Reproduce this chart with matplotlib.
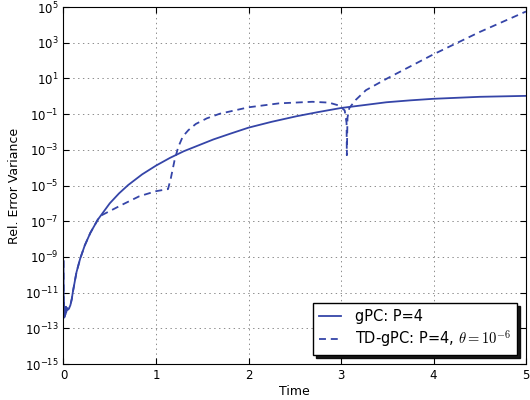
import matplotlib
matplotlib.use("Agg")
import matplotlib.pyplot as plt

plt.rcParams["mathtext.fontset"] = "cm"
plt.rcParams["lines.scale_dashes"] = False

line_color = "#3545a8"

# gPC: P=4  (time, relative error variance)
gpc_t = [0.0, 0.003, 0.006, 0.009, 0.012, 0.015, 0.018, 0.021, 0.025, 0.03,
         0.035, 0.045, 0.06, 0.075, 0.09, 0.10, 0.14, 0.18, 0.23, 0.29,
         0.37, 0.5, 0.6, 0.7, 0.85, 1.0, 1.15, 1.3, 1.62, 1.8, 2.0, 2.25,
         2.52, 2.75, 3.0, 3.25, 3.49, 3.75, 4.0, 4.5, 5.0]
gpc_err = [6e-10, 5e-13, 2.5e-12, 4e-13, 1.6e-12, 5e-13, 1.3e-12, 6e-13,
           1.6e-12, 8e-13, 1.4e-12, 1.1e-12, 1.3e-12, 2e-12, 4.5e-12, 1e-11,
           1.35e-10, 7.9e-10, 4.4e-9, 2.2e-8, 1.2e-7, 1e-6, 3.6e-6, 1.07e-5,
           4.2e-5, 1.3e-4, 3.5e-4, 8.3e-4, 3.8e-3, 7.9e-3, 1.74e-2, 3.7e-2,
           7.6e-2, 0.129, 0.22, 0.32, 0.46, 0.59, 0.72, 0.93, 1.05]

# TD-gPC: P=4, theta=1e-6
td_t = [0.0, 0.003, 0.006, 0.009, 0.012, 0.015, 0.018, 0.021, 0.025, 0.03,
        0.035, 0.045, 0.06, 0.075, 0.09, 0.10, 0.14, 0.18, 0.23, 0.29,
        0.37, 0.40, 0.64, 0.82, 1.0, 1.13, 1.16, 1.2, 1.24, 1.29, 1.35,
        1.43, 1.55, 1.69, 2.0, 2.33, 2.69, 2.87, 2.98, 3.04, 3.06, 3.063,
        3.07, 3.09, 3.16, 3.27, 3.5, 4.0, 4.5, 5.0]
td_err = [6e-10, 5e-13, 2.5e-12, 4e-13, 1.6e-12, 5e-13, 1.3e-12, 6e-13,
          1.6e-12, 8e-13, 1.4e-12, 1.1e-12, 1.3e-12, 2e-12, 4.5e-12, 1e-11,
          1.35e-10, 7.9e-10, 4.4e-9, 2.2e-8, 1.2e-7, 2e-7, 8.7e-7, 2.5e-6,
          4.8e-6, 6.3e-6, 2.5e-5, 2.5e-4, 1.4e-3, 5.6e-3, 1.26e-2, 2.8e-2,
          5.8e-2, 0.105, 0.24, 0.4, 0.49, 0.44, 0.3, 0.16, 0.032, 5e-4,
          0.063, 0.22, 0.63, 2.2, 10, 224, 4000, 56000]

fig = plt.figure(figsize=(5.3, 4.0), dpi=100)
ax = fig.add_axes([0.1198, 0.09, 0.8727, 0.8925])

ax.plot(gpc_t, gpc_err, color=line_color, lw=1.3, label="gPC: P=4")
ax.plot(td_t, td_err, color=line_color, lw=1.3, dashes=(5, 3.5),
        label=r"TD-gPC: P=4, $\theta = 10^{-6}$")

ax.set_yscale("log")
ax.set_xlim(0, 5)
ax.set_ylim(1e-15, 1e5)
ax.set_yticks([10.0 ** k for k in range(-15, 6, 2)])
ax.yaxis.set_minor_locator(matplotlib.ticker.NullLocator())
ax.set_xticks([0, 1, 2, 3, 4, 5])
ax.tick_params(direction="in", top=True, right=True, labelsize=8.5, length=4)
ax.grid(True, color="0.55", linestyle=(0, (1, 2.5)), lw=0.7)

ax.set_xlabel("Time", fontsize=9, labelpad=2)
ax.set_ylabel("Rel. Error Variance", fontsize=9, labelpad=3)

leg = ax.legend(loc="lower right", fontsize=10.5, fancybox=False,
                shadow={"color": "black", "alpha": 0.9}, framealpha=1,
                edgecolor="black", handlelength=1.5, handletextpad=1.0,
                labelspacing=0.3, borderpad=0.4, borderaxespad=0.6)
leg.get_frame().set_linewidth(1.0)

fig.savefig("out.png", dpi=100)
